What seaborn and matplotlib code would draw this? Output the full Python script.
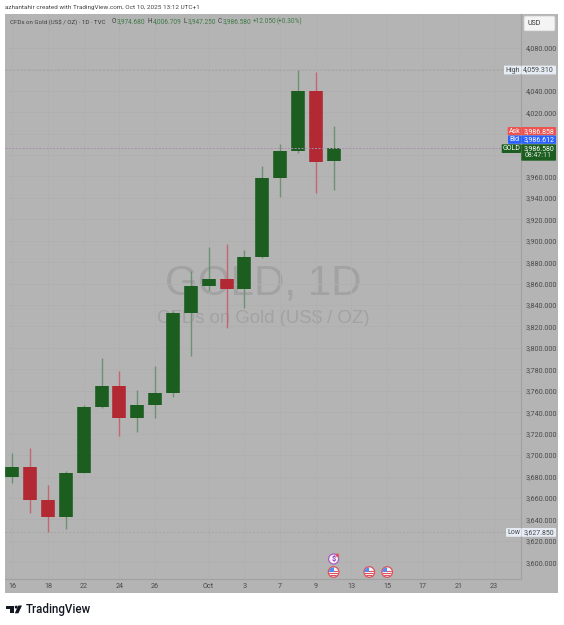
import matplotlib
matplotlib.use("Agg")
import matplotlib.pyplot as plt
from matplotlib.patches import Rectangle, Circle, Polygon, FancyBboxPatch
import pandas as pd
import seaborn as sns

sessions = list(range(19))
opens = [3679.6, 3688.9, 3657.8, 3642.5, 3683.6, 3744.9, 3764.5, 3734.6, 3747.2, 3758.0,
         3832.6, 3857.8, 3864.3, 3855.0, 3884.6, 3958.5, 3983.7, 4039.7, 3974.68]
highs = [3702.2, 3706.6, 3672.1, 3685.2, 3746.8, 3790.6, 3778.5, 3760.7, 3783.1, 3834.5,
         3871.8, 3894.5, 3896.7, 3891.4, 3969.7, 3990.3, 4059.31, 4057.7, 4006.709]
lows = [3674.3, 3645.7, 3627.85, 3631.3, 3683.0, 3744.0, 3717.8, 3721.6, 3734.6, 3754.2,
        3792.8, 3853.1, 3818.9, 3837.5, 3884.0, 3940.5, 3982.2, 3944.3, 3947.25]
closes = [3688.9, 3657.8, 3642.5, 3683.6, 3744.9, 3764.5, 3734.6, 3747.2, 3758.4, 3832.6,
          3857.8, 3864.3, 3855.0, 3884.6, 3958.5, 3983.7, 4039.7, 3973.8, 3986.58]

date_positions = [0, 2, 4, 6, 8, 11, 13, 15, 17, 19, 21, 23, 25, 27]
date_labels = ["16", "18", "22", "24", "26", "Oct", "3", "7", "9", "13", "15", "17", "21", "23"]
price_ticks = list(range(3600, 4100, 20))
hidden_price_labels = [4060, 4000, 3980]
session_high = 4059.31
session_low = 3627.85
last_price = 3986.58
ask_price = 3986.858
bid_price = 3986.612
flag_events = [18, 20, 21]
dividend_events = [18]

PANEL = "#b4b4b4"
GRID = "#b0b0b0"
AXIS = "#a1a1a1"
TEXT = "#4a4a4a"
UP = "#1b5e20"
DOWN = "#b22833"
UP_WICK = "#6d9271"
DOWN_WICK = "#c4666f"

sns.set_theme(style="ticks")
plt.rcParams["font.family"] = ["Roboto", "DejaVu Sans"]

W, H = 564, 625
fig = plt.figure(figsize=(W / 100, H / 100), dpi=100, facecolor="white")

# Grey panel behind the chart and the two scales
back = fig.add_axes([0, 0, 1, 1], zorder=0)
back.set_xlim(0, W)
back.set_ylim(H, 0)
back.axis("off")
back.add_patch(Rectangle((5, 14), 553.3, 579, facecolor=PANEL, edgecolor="none"))

L, R, T, B = 5, 521.3, 14, 579.3
ax = fig.add_axes([L / W, 1 - B / H, (R - L) / W, (B - T) / H], zorder=1)
ax.set_facecolor("none")
ax.set_xlim(-0.409, 28.515)
ax.set_ylim(3584.1, 4111.6)

# Watermark under the candles
ax.text(0.5, 0.524, "GOLD, 1D", transform=ax.transAxes, ha="center", va="center",
        fontsize=30.3, color="#a2a2a2", family="Liberation Sans", zorder=0)
ax.text(0.5, 0.462, "CFDs on Gold (US$ / OZ)", transform=ax.transAxes, ha="center", va="center",
        fontsize=13.4, color="#a2a2a2", family="Liberation Sans", zorder=0)

direction = ["up" if c >= o else "down" for o, c in zip(opens, closes)]
wicks = pd.DataFrame({
    "session": sessions * 2,
    "price": lows + highs,
    "direction": direction * 2,
})
bodies = pd.DataFrame({
    "session": sessions * 2,
    "price": opens + closes,
    "direction": direction * 2,
})

sns.lineplot(data=wicks, x="session", y="price", hue="direction", units="session",
             estimator=None, sort=False, palette={"up": UP_WICK, "down": DOWN_WICK},
             linewidth=1.0, legend=False, ax=ax, zorder=3, solid_capstyle="butt")
sns.lineplot(data=bodies, x="session", y="price", hue="direction", units="session",
             estimator=None, sort=False, palette={"up": UP, "down": DOWN},
             linewidth=9.8, legend=False, ax=ax, zorder=4, solid_capstyle="butt")

ax.set_xlabel("")
ax.set_ylabel("")
ax.set_xticks(date_positions)
ax.set_xticklabels(date_labels)
ax.set_yticks(price_ticks)
ax.set_yticklabels(["" if p in hidden_price_labels else f"{p:,.3f}" for p in price_ticks])
ax.yaxis.tick_right()
ax.tick_params(axis="y", length=0, pad=3.2, labelsize=5.2, labelcolor=TEXT)
ax.tick_params(axis="x", length=0, pad=2.6, labelsize=5.2, labelcolor=TEXT)
ax.grid(True, color=GRID, linewidth=0.6, zorder=1)
ax.set_axisbelow(True)
for side in ("top", "left"):
    ax.spines[side].set_visible(False)
for side in ("right", "bottom"):
    ax.spines[side].set_color(AXIS)
    ax.spines[side].set_linewidth(0.8)

ax.axhline(session_high, color="#a3a3a3", linewidth=0.6, dashes=(2.5, 2), zorder=2)
ax.axhline(session_low, color="#a3a3a3", linewidth=0.6, dashes=(2.5, 2), zorder=2)
ax.axhline(last_price, color="#a98fae", linewidth=0.7, dashes=(2, 1.5), zorder=5)

# Overlay in pixel units for the scale tags, header and footer
ov = fig.add_axes([0, 0, 1, 1], zorder=2)
ov.set_xlim(0, W)
ov.set_ylim(H, 0)
ov.axis("off")
ov.patch.set_alpha(0)


def tag(x0, x1, y0, y1, face, label, color, size=5.0):
    ov.add_patch(FancyBboxPatch((x0 + 0.6, y0 + 0.6), x1 - x0 - 1.2, y1 - y0 - 1.2,
                                boxstyle="round,pad=0.6,rounding_size=0.8",
                                facecolor=face, edgecolor="none"))
    ov.text((x0 + x1) / 2, (y0 + y1) / 2, label, ha="center", va="center",
            fontsize=size, color=color)


def price_y(p):
    return H - ax.transData.transform((0, p))[1]


# USD selector
ov.add_patch(FancyBboxPatch((524.5, 16.5), 30, 14, boxstyle="round,pad=0.5,rounding_size=1.5",
                            facecolor="#f4f4f4", edgecolor="#c8c8c8", linewidth=0.5))
ov.text(534, 23.7, "USD", ha="center", va="center", fontsize=5.0, color="#333333")

# High and low tags
hy = price_y(session_high)
tag(504, 521, hy - 4.4, hy + 4.4, "#e6ecf4", "High", TEXT)
tag(521.3, 556, hy - 4.4, hy + 4.4, "#e6ecf4", f"{session_high:,.3f}", TEXT)
ly = price_y(session_low)
tag(506, 521, ly - 4.4, ly + 4.4, "#e6ecf4", "Low", TEXT)
tag(521.3, 556, ly - 4.4, ly + 4.4, "#e6ecf4", f"{session_low:,.3f}", TEXT)

# Ask, bid and last price tags
tag(507.7, 521, 127, 135.3, "#ef5350", "Ask", "white")
tag(521.3, 556, 127, 135.3, "#ef5350", f"{ask_price:,.3f}", "white")
tag(508, 521, 135.5, 143.8, "#2962ff", "Bid", "white")
tag(521.3, 556, 135.5, 143.8, "#2962ff", f"{bid_price:,.3f}", "white")
tag(501.7, 521, 144.3, 153, UP, "GOLD", "white")
ov.add_patch(FancyBboxPatch((521.9, 144.9), 33.5, 15.2, boxstyle="round,pad=0.6,rounding_size=0.8",
                            facecolor=UP, edgecolor="none"))
ov.text(538.6, 148.8, f"{last_price:,.3f}", ha="center", va="center", fontsize=5.0, color="white")
ov.text(538.6, 155.9, "08:47:11", ha="center", va="center", fontsize=5.0, color="#d6e4d7")

# Header line and OHLC legend
ov.text(5, 7.8, "azhantahir created with TradingView.com, Oct 10, 2025 13:12 UTC+1",
        ha="left", va="center", fontsize=4.55, color="#444444")
LEGEND_Y = 21.8
GREEN_TEXT = "#3f7a46"
ov.text(9.5, LEGEND_Y, "CFDs on Gold (US$ / OZ) · 1D · TVC", ha="left", va="center",
        fontsize=4.45, color="#3c3c3c")
for x, letter, value in [(112, "O", "3,974.680"), (148, "H", "4,006.709"),
                         (183.3, "L", "3,947.250"), (218, "C", "3,986.580")]:
    ov.text(x, LEGEND_Y, letter, ha="left", va="center", fontsize=4.7, color="#3c3c3c")
    ov.text(x + 4.8, LEGEND_Y, value, ha="left", va="center", fontsize=4.7, color=GREEN_TEXT)
ov.text(253, LEGEND_Y, "+12.050", ha="left", va="center", fontsize=4.7, color=GREEN_TEXT)
ov.text(277, LEGEND_Y, "(+0.30%)", ha="left", va="center", fontsize=4.7, color=GREEN_TEXT)


def flag_icon(cx, cy, r=5.3):
    disc = Circle((cx, cy), r, facecolor="#f3f3f3", edgecolor="#e0505c", linewidth=0.9, zorder=6)
    ov.add_patch(disc)
    clip = Circle((cx, cy), r - 0.6, transform=ov.transData)
    for off in (-0.6, 1.3, 3.1):
        s = ov.add_patch(Rectangle((cx - r, cy + off - 0.45), 2 * r, 0.9, facecolor="#e0505c",
                                   edgecolor="none", zorder=7))
        s.set_clip_path(clip)
    c = ov.add_patch(Rectangle((cx - r, cy - r), r, r, facecolor="#4f8df0", edgecolor="none", zorder=8))
    c.set_clip_path(clip)


for ev in flag_events:
    flag_icon(ax.transData.transform((ev, 0))[0], 572)

for ev in dividend_events:
    ex = ax.transData.transform((ev, 0))[0]
    ov.add_patch(Circle((ex, 559), 5.0, facecolor="#f4f0f6", edgecolor="#a85cc8", linewidth=0.9, zorder=6))
    ov.text(ex, 559.2, "$", ha="center", va="center", fontsize=5.2, color="#8e3fb0",
            fontweight="bold", zorder=7)
    ov.add_patch(Circle((ex + 3.8, 555.2), 1.7, facecolor="#e0505c", edgecolor="none", zorder=8))

# Footer logo and wordmark
LOGO = "#131722"
ov.add_patch(Polygon([(6, 605.5), (14.2, 605.5), (14.2, 613.3), (10.2, 613.3), (10.2, 608.8), (6, 608.8)],
                     facecolor=LOGO, edgecolor="none"))
ov.add_patch(Circle((16.2, 607.1), 1.5, facecolor=LOGO, edgecolor="none"))
ov.add_patch(Polygon([(18.3, 605.5), (22, 605.5), (18.4, 613.3), (14.8, 613.3)],
                     facecolor=LOGO, edgecolor="none"))
ov.text(25.5, 609.4, "TradingView", ha="left", va="center", fontsize=8.3, color=LOGO,
        fontweight="medium")

fig.savefig("out.png", dpi=100)
